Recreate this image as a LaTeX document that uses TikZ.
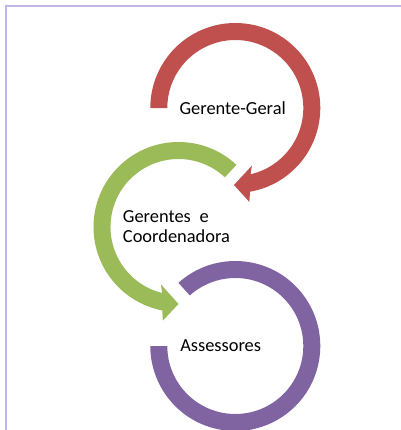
\documentclass[tikz,border=0pt]{standalone}
\usepackage{fontspec}
\setmainfont{Carlito}
\definecolor{ringred}{RGB}{192,80,77}
\definecolor{ringgreen}{RGB}{155,187,89}
\definecolor{ringpurple}{RGB}{128,100,162}
\definecolor{frameline}{RGB}{196,182,228}
\begin{document}
\begin{tikzpicture}[x=0.75pt,y=0.75pt,
  label/.style={inner sep=0pt,anchor=base west,font=\fontsize{13.8}{15}\selectfont},
  frame/.style={draw=frameline,line width=1.6pt}]
\useasboundingbox (0,0) rectangle (401,430);
% frame around the chart
\draw[frame] (6,0) -- (6,424) -- (401,424);

% red ring: from the left, clockwise, arrow tip at the bottom
\begin{scope}[shift={(235.3,322)}]
  \fill[ringred] (180:85) arc[start angle=180,end angle=-80,radius=85]
    -- (-81.5:95) -- (-91:77) -- (-74:60) -- (-77:68)
    arc[start angle=-77,end angle=180,radius=68] -- cycle;
\end{scope}

% green ring: from the upper right, counter-clockwise, arrow tip at the bottom
\begin{scope}[shift={(178.5,203)}]
  \fill[ringgreen] (47:85) arc[start angle=47,end angle=259,radius=85]
    -- (260.5:95) -- (270:77) -- (253:60) -- (256:68)
    arc[start angle=256,end angle=47,radius=68] -- cycle;
\end{scope}

% purple ring: open on the upper left
\begin{scope}[shift={(235.3,84)}]
  \fill[ringpurple] (132:85) arc[start angle=132,end angle=-180,radius=85]
    -- (180:68) arc[start angle=-180,end angle=132,radius=68] -- cycle;
\end{scope}

\node[label] (geral) at (179.3,315.7) {Gerente-Geral};
% two-line label: its base anchor sits on the last line
\node[label,align=left] (gerentes) at (122.7,187.3)
  {\makebox[64.3pt][s]{Gerentes e}\\Coordenadora};
\node[label] (assessores) at (180,78.3) {Assessores};
\end{tikzpicture}
\end{document}
